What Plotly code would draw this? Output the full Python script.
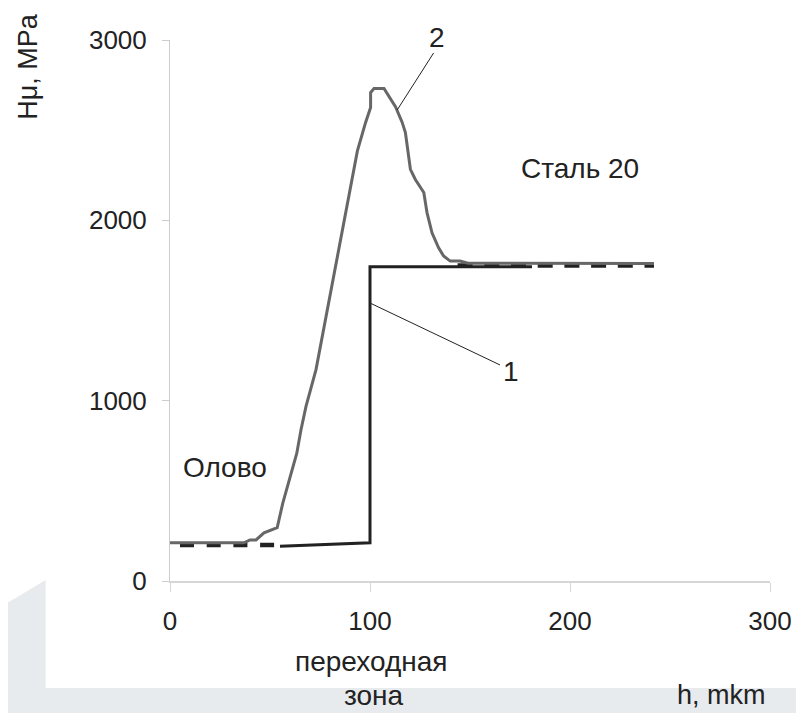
import plotly.graph_objects as go

# ---- data ----
curve2_x = [0, 37, 40, 43, 47, 53.6, 56.4, 61.3, 63.4, 65.5, 68, 73, 75.5, 79.6, 91.2, 93.7,
            97.8, 100.3, 100.3, 102, 107, 109.5, 112.8, 116.1, 117.7, 120.2, 122.6, 126.9,
            128.5, 131, 134.3, 136.8, 140.1, 145, 149, 242]
curve2_y = [212, 212, 228, 228, 267, 296, 432, 635, 709, 839, 968, 1172, 1320, 1561, 2246, 2385,
            2543, 2626, 2709, 2731, 2731, 2685, 2629, 2543, 2487, 2283, 2228, 2154,
            2043, 1931, 1848, 1802, 1774, 1774, 1762, 1760]

curve1_x = [55, 100, 100, 181]
curve1_y = [193, 212, 1742, 1742]

dash_left_x = [5, 52.2]
dash_left_y = [200, 200]
dash_right_x = [143.8, 242]
dash_right_y = [1750, 1750]

x_ticks = [0, 100, 200, 300]
y_ticks = [0, 1000, 2000, 3000]
y_ticklabels = ["0", "1000", "2000", "3000"]

FONT = "Liberation Sans, Arial, sans-serif"
TXT = "#222222"

fig = go.Figure()

fig.add_trace(go.Scatter(x=dash_left_x, y=dash_left_y, mode="lines",
                         line=dict(color="#222222", width=4.5, dash="14px,12.7px"),
                         showlegend=False, hoverinfo="skip"))
fig.add_trace(go.Scatter(x=dash_right_x, y=dash_right_y, mode="lines",
                         line=dict(color="#222222", width=4.5, dash="15px,11.7px"),
                         showlegend=False, hoverinfo="skip"))
fig.add_trace(go.Scatter(x=curve1_x, y=curve1_y, mode="lines",
                         line=dict(color="#222222", width=3),
                         showlegend=False, hoverinfo="skip"))
fig.add_trace(go.Scatter(x=curve2_x, y=curve2_y, mode="lines",
                         line=dict(color="#676767", width=3),
                         showlegend=False, hoverinfo="skip"))

# background sheet shape (light grey)
fig.add_shape(type="path", xref="paper", yref="paper", layer="below",
              path="M -0.2819 -0.0475 L -0.2073 0.0019 L -0.2073 -0.1978 L 1.06 -0.1978 "
                   "L 1.06 -0.26 L -0.2819 -0.26 Z",
              fillcolor="#e8ebee", line=dict(width=0))

# leader lines
fig.add_shape(type="line", x0=131.8, y0=2928, x1=113.6, y1=2612,
              line=dict(color="#222222", width=1))
fig.add_shape(type="line", x0=100.3, y0=1540, x1=165, y1=1198,
              line=dict(color="#222222", width=1))

ann_font = dict(family=FONT, size=28, color=TXT)
fig.add_annotation(xref="paper", yref="paper", x=0.4444, y=1.0055, text="2",
                   showarrow=False, font=ann_font, xanchor="center", yanchor="middle")
fig.add_annotation(x=170.5, y=1161, text="1", showarrow=False, font=ann_font)
fig.add_annotation(x=204.8, y=2290, text="Сталь 20", showarrow=False, font=ann_font)
fig.add_annotation(x=27.4, y=627, text="Олово", showarrow=False, font=ann_font)

lab_font = dict(family=FONT, size=27, color=TXT)
fig.add_annotation(xref="paper", yref="paper", x=-0.2371, y=0.952, text="Hμ, MPa",
                   textangle=-90, showarrow=False, font=lab_font,
                   xanchor="center", yanchor="middle")
fig.add_annotation(xref="paper", yref="paper", x=0.335, y=-0.148, text="переходная",
                   showarrow=False, font=dict(family=FONT, size=28, color=TXT),
                   xanchor="center", yanchor="middle")
fig.add_annotation(xref="paper", yref="paper", x=0.34, y=-0.211, text="зона",
                   showarrow=False, font=dict(family=FONT, size=28, color=TXT),
                   xanchor="center", yanchor="middle")
fig.add_annotation(xref="paper", yref="paper", x=0.9187, y=-0.211, text="h, mkm",
                   showarrow=False, font=lab_font, xanchor="center", yanchor="middle")

fig.update_layout(
    width=796, height=705,
    margin=dict(l=162, r=31, t=32, b=132),
    paper_bgcolor="white", plot_bgcolor="white",
    showlegend=False,
    font=dict(family=FONT, color=TXT),
)
fig.update_xaxes(range=[0, 300], tickvals=x_ticks, showgrid=False, zeroline=False,
                 showline=True, linecolor="#d6d6d6", linewidth=2,
                 ticks="outside", ticklen=9, tickcolor="#d6d6d6", tickwidth=1,
                 tickfont=dict(family=FONT, size=26, color=TXT), ticklabelstandoff=7)
fig.update_yaxes(range=[0, 3000], tickvals=y_ticks, ticktext=y_ticklabels,
                 showgrid=False, zeroline=False,
                 showline=True, linecolor="#cccccc", linewidth=1,
                 ticks="outside", ticklen=7, tickcolor="#cccccc", tickwidth=1,
                 tickfont=dict(family=FONT, size=26, color=TXT), ticklabelstandoff=10)

fig.write_html("out.html")
